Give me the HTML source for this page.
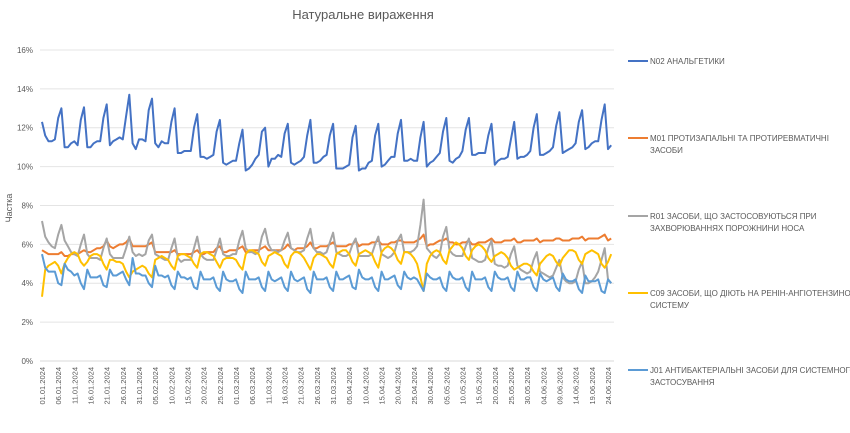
<!DOCTYPE html>
<html><head><meta charset="utf-8"><style>
body{margin:0;background:#fff;}
svg text{font-family:"Liberation Sans","DejaVu Sans",sans-serif;}
</style></head><body>
<svg id="chart" width="850" height="428" viewBox="0 0 850 428" xmlns="http://www.w3.org/2000/svg">
<text x="363" y="19" font-size="13" fill="#595959" text-anchor="middle">Натуральне вираження</text>
<text x="0" y="0" font-size="9" fill="#595959" text-anchor="middle" transform="translate(12,208) rotate(-90)">Частка</text>
<g id="grid"></g>
<g id="yticks"></g>
<g id="xticks"></g>
<g id="series"></g>
<g id="legend"></g>
</svg>
<script>
const yTicks=[0,2,4,6,8,10,12,14,16];
const startDate=[2024,0,1];
const N02=[12.3,11.6,11.3,11.3,11.4,12.5,13.0,
11.0,11.0,11.2,11.3,11.1,12.4,13.05,
11.0,11.0,11.2,11.3,11.3,12.5,13.2,
11.1,11.3,11.4,11.5,11.4,12.6,13.7,
11.2,10.9,11.4,11.4,11.3,12.9,13.5,
11.2,11.0,11.3,11.2,11.2,12.3,13.0,
10.7,10.7,10.8,10.8,10.8,12.0,12.7,
10.5,10.5,10.4,10.5,10.6,11.8,12.4,
10.2,10.1,10.2,10.3,10.3,11.2,11.9,
9.8,9.9,10.1,10.4,10.6,11.8,12.0,
10.0,10.4,10.4,10.6,10.5,11.7,12.2,
10.2,10.1,10.2,10.3,10.5,11.6,12.4,
10.2,10.2,10.3,10.5,10.6,11.6,12.2,
9.9,9.9,9.9,10.0,10.1,11.5,12.1,
9.8,9.9,9.9,10.2,10.3,11.6,12.2,
10.0,10.1,10.3,10.5,10.5,11.7,12.4,
10.3,10.3,10.4,10.3,10.3,11.5,12.3,
10.0,10.2,10.3,10.5,10.7,11.8,12.5,
10.3,10.2,10.4,10.5,10.8,11.9,12.5,
10.6,10.6,10.7,10.7,10.7,11.6,12.2,
10.1,10.3,10.4,10.4,10.5,11.4,12.3,
10.4,10.5,10.5,10.6,10.8,12.0,12.7,
10.6,10.6,10.7,10.8,11.0,12.1,12.8,
10.7,10.8,10.9,11.0,11.2,12.3,12.9,
10.9,11.0,11.2,11.3,11.3,12.4,13.2,
10.9,11.1];
const M01=[5.7,5.6,5.5,5.5,5.5,5.5,5.6,
5.4,5.4,5.5,5.5,5.5,5.6,5.7,
5.6,5.6,5.7,5.8,5.8,5.9,6.2,
5.9,5.8,5.9,6.0,6.0,6.1,6.3,
5.9,5.9,5.9,5.9,5.9,6.0,6.1,
5.6,5.6,5.6,5.6,5.6,5.6,5.7,
5.5,5.5,5.5,5.5,5.5,5.6,5.7,
5.5,5.5,5.6,5.6,5.6,5.8,5.9,
5.6,5.6,5.7,5.7,5.7,5.8,5.9,
5.6,5.6,5.7,5.7,5.7,5.8,5.9,
5.7,5.7,5.7,5.7,5.7,5.8,6.0,
5.8,5.7,5.8,5.8,5.8,5.9,6.1,
5.8,5.8,5.9,5.9,5.9,6.0,6.1,
5.9,5.9,5.9,5.9,6.0,6.0,6.2,
5.9,6.0,6.0,6.0,6.1,6.1,6.2,
6.0,6.0,6.0,6.1,6.1,6.2,6.2,
6.1,6.1,6.1,6.1,6.2,6.3,6.5,
5.9,6.0,6.0,6.1,6.2,6.2,6.3,
6.1,6.1,6.0,6.0,6.1,6.1,6.2,
6.0,6.0,6.1,6.1,6.1,6.2,6.3,
6.1,6.1,6.1,6.2,6.2,6.2,6.3,
6.1,6.1,6.2,6.2,6.2,6.2,6.3,
6.1,6.2,6.2,6.2,6.2,6.3,6.3,
6.2,6.2,6.2,6.3,6.3,6.3,6.4,
6.2,6.3,6.3,6.3,6.3,6.4,6.5,
6.2,6.3];
const R01=[7.2,6.4,6.1,5.9,5.8,6.5,7.0,
6.2,5.9,5.6,5.5,5.4,6.0,6.5,
5.5,5.3,5.3,5.3,5.2,5.8,6.3,
5.5,5.3,5.3,5.3,5.3,5.8,6.4,
5.6,5.4,5.5,5.4,5.5,6.2,6.5,
5.5,5.4,5.3,5.2,5.2,5.8,6.3,
5.3,5.1,5.2,5.2,5.2,5.8,6.4,
5.5,5.3,5.2,5.2,5.2,5.7,6.3,
5.5,5.4,5.4,5.5,5.5,6.2,6.7,
5.8,5.6,5.6,5.5,5.6,6.4,6.8,
6.0,5.7,5.7,5.6,5.7,6.2,6.6,
5.8,5.7,5.6,5.6,5.7,6.3,6.8,
5.8,5.6,5.6,5.5,5.6,6.1,6.6,
5.6,5.5,5.4,5.4,5.5,6.0,6.3,
5.4,5.4,5.4,5.4,5.5,6.0,6.4,
5.5,5.4,5.3,5.4,5.6,6.2,6.5,
5.6,5.6,5.6,5.7,5.9,7.0,8.3,
5.8,5.6,5.4,5.3,5.5,6.4,6.9,
5.7,5.5,5.4,5.4,5.4,5.9,6.3,
5.3,5.2,5.1,5.1,5.2,5.8,6.2,
5.0,4.9,4.9,4.8,4.9,5.5,5.9,
4.9,4.7,4.6,4.5,4.6,5.2,5.6,
4.6,4.5,4.4,4.3,4.4,4.8,5.2,
4.3,4.1,4.0,4.0,4.1,4.7,5.1,
4.0,4.0,4.1,4.3,4.6,5.2,5.8,
4.2,4.0];
const C09=[3.3,4.7,4.9,5.0,5.1,4.9,4.5,
5.0,5.3,5.5,5.6,5.5,5.1,4.9,
5.1,5.4,5.5,5.5,5.4,5.0,4.7,
5.2,5.2,5.1,5.1,5.0,4.6,4.3,
4.6,4.7,4.8,4.9,4.8,4.5,4.3,
5.2,5.3,5.4,5.3,5.2,4.9,4.7,
5.4,5.5,5.5,5.4,5.3,5.0,4.8,
5.5,5.6,5.6,5.5,5.4,5.1,4.8,
5.2,5.3,5.3,5.3,5.2,4.9,4.7,
5.5,5.7,5.7,5.6,5.5,5.1,4.9,
5.4,5.5,5.6,5.5,5.4,5.0,4.8,
5.4,5.6,5.6,5.5,5.3,5.0,4.7,
5.3,5.5,5.5,5.4,5.3,5.0,4.8,
5.5,5.6,5.7,5.7,5.5,5.1,4.9,
5.5,5.6,5.7,5.6,5.5,5.1,4.8,
5.6,5.8,5.9,5.8,5.6,5.2,5.0,
5.6,5.6,5.5,5.3,5.0,4.3,3.6,
5.0,5.4,5.6,5.7,5.6,5.2,5.0,
5.7,5.9,6.1,6.0,5.8,5.4,5.2,
5.7,5.9,6.0,5.9,5.7,5.3,5.1,
5.4,5.5,5.6,5.5,5.3,4.9,4.7,
4.8,4.9,5.0,5.0,4.9,4.6,4.4,
5.0,5.2,5.4,5.5,5.4,5.1,4.9,
5.3,5.5,5.7,5.7,5.6,5.2,5.0,
5.5,5.6,5.7,5.6,5.5,5.0,4.8,
5.1,5.5];
const J01=[5.5,4.8,4.6,4.6,4.6,4.0,3.9,
5.0,4.7,4.6,4.4,4.5,4.0,3.7,
4.7,4.3,4.3,4.3,4.4,3.9,3.8,
4.7,4.4,4.4,4.5,4.6,4.2,3.9,
5.3,4.5,4.5,4.4,4.4,4.0,3.8,
4.9,4.4,4.4,4.3,4.4,3.9,3.7,
4.6,4.3,4.3,4.2,4.3,3.8,3.7,
4.6,4.2,4.2,4.2,4.3,3.8,3.6,
4.6,4.2,4.1,4.1,4.2,3.7,3.5,
4.6,4.2,4.2,4.2,4.3,3.8,3.6,
4.6,4.2,4.1,4.2,4.3,3.8,3.6,
4.6,4.2,4.1,4.2,4.3,3.7,3.5,
4.6,4.2,4.2,4.2,4.3,3.8,3.6,
4.6,4.2,4.2,4.3,4.4,3.8,3.7,
4.7,4.3,4.2,4.2,4.3,3.8,3.6,
4.6,4.2,4.2,4.3,4.4,3.9,3.7,
4.6,4.3,4.2,4.3,4.2,3.9,3.6,
4.5,4.3,4.2,4.2,4.3,3.8,3.6,
4.6,4.3,4.2,4.2,4.3,3.8,3.6,
4.6,4.2,4.2,4.2,4.3,3.8,3.6,
4.6,4.3,4.2,4.2,4.3,3.8,3.6,
4.6,4.2,4.2,4.3,4.3,3.8,3.6,
4.5,4.2,4.1,4.2,4.3,3.8,3.6,
4.5,4.2,4.1,4.1,4.2,3.7,3.5,
4.4,4.1,4.1,4.1,4.2,3.6,3.5,
4.2,4.0];
const seriesNames=["N02 АНАЛЬГЕТИКИ","M01 ПРОТИЗАПАЛЬНІ ТА ПРОТИРЕВМАТИЧНІ|ЗАСОБИ","R01 ЗАСОБИ, ЩО ЗАСТОСОВУЮТЬСЯ ПРИ|ЗАХВОРЮВАННЯХ ПОРОЖНИНИ НОСА","C09 ЗАСОБИ, ЩО ДІЮТЬ НА РЕНІН-АНГІОТЕНЗИНОВУ|СИСТЕМУ","J01 АНТИБАКТЕРІАЛЬНІ ЗАСОБИ ДЛЯ СИСТЕМНОГО|ЗАСТОСУВАННЯ"];
const seriesKeys=["n02","m01","r01","c09","j01"];
const seriesData=[N02,M01,R01,C09,J01];
const colors=["#4472C4","#ED7D31","#A5A5A5","#FFC000","#5B9BD5"];

const NS="http://www.w3.org/2000/svg";
const x0=42,dx=3.234,yBase=361,pxPer=19.44;
const xS=i=>x0+i*dx;
const yS=v=>yBase-v*pxPer;
function mk(tag,attrs,parent){const e=document.createElementNS(NS,tag);for(const k in attrs)e.setAttribute(k,attrs[k]);parent.appendChild(e);return e;}
const grid=document.getElementById('grid'),yt=document.getElementById('yticks'),xt=document.getElementById('xticks'),sg=document.getElementById('series'),lg=document.getElementById('legend');
yTicks.forEach(t=>{
  const l=mk('line',{x1:40,x2:614,y1:yS(t),y2:yS(t),stroke:t===0?'#d9d9d9':'#e4e4e4','stroke-width':1},grid);
  
  
  const tx=mk('text',{x:33,y:yS(t)+3,'font-size':8,fill:'#595959','text-anchor':'end'},yt);
  tx.textContent=t+'%';
  
  
});
const nPts=N02.length;
for(let i=0;i<nPts;i+=5){
  const d=new Date(startDate[0],startDate[1],startDate[2]+i);
  const s=String(d.getDate()).padStart(2,'0')+'.'+String(d.getMonth()+1).padStart(2,'0')+'.'+d.getFullYear();
  const tx=mk('text',{x:0,y:0,'font-size':7.5,fill:'#595959','text-anchor':'end',transform:`translate(${xS(i)+3},367) rotate(-90)`},xt);
  tx.textContent=s;
  
  
}
seriesData.forEach((arr,k)=>{
  const p=arr.map((v,i)=>(i?'L':'M')+xS(i).toFixed(1)+' '+yS(v).toFixed(1)).join(' ');
  const path=mk('path',{d:p,fill:'none',stroke:colors[k],'stroke-width':2,'stroke-linejoin':'round'},sg);
  
  
});
const legY=[61,138,216,293,370];
seriesNames.forEach((n,k)=>{
  const g=mk('g',{},lg);
  
  
  mk('line',{x1:628,x2:648,y1:legY[k],y2:legY[k],stroke:colors[k],'stroke-width':2},g);
  n.split('|').forEach((ln,j)=>{
    const t=mk('text',{x:650,y:legY[k]+3+j*12,'font-size':8,fill:'#595959'},g);
    t.textContent=ln;
  });
});
</script>
</body></html>
